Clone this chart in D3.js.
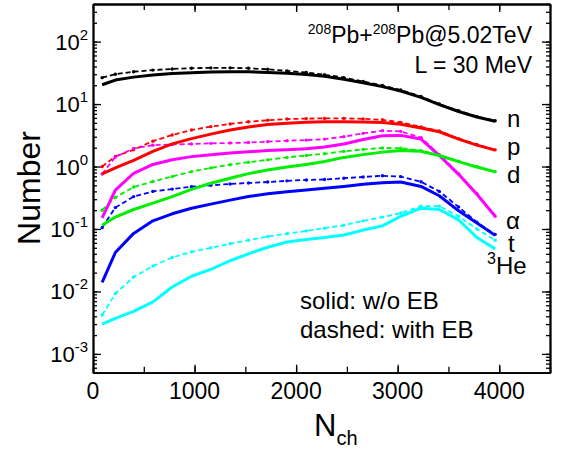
<!DOCTYPE html>
<html>
<head>
<meta charset="utf-8">
<script src="https://cdn.jsdelivr.net/npm/d3@7"></script>
<style>
  body { margin: 0; background: #fff; }
  svg { font-family: "Liberation Sans", Arial, sans-serif; }
</style>
</head>
<body>
<svg id="chart"></svg>
<script>
var width = 562,
    height = 452,
    plotLeft = 93,
    plotRight = 550,
    plotTop = 4,
    plotBottom = 372.7;

// multiplicity points (x)
var nch = [90, 220, 400, 590, 780, 970, 1160, 1350, 1530, 1720, 1910, 2100,
           2280, 2470, 2660, 2850, 3030, 3230, 3410, 3600, 3780, 3960];

// solid: without EB
var nSolid = [20.4, 24.2, 27, 29.3, 30.8, 31.8, 32.6, 33, 32.8, 32, 31, 29.8,
              27.8, 25, 22, 19, 16.2, 12.8, 9.8, 7.6, 6.2, 5.3];
var pSolid = [0.76, 0.95, 1.25, 1.75, 2.3, 2.8, 3.3, 3.85, 4.3, 4.7, 4.95, 5.1,
              5.2, 5.2, 5.15, 5.05, 4.75, 4.15, 3.6, 2.75, 2.2, 1.83];
var aSolid = [0.15, 0.42, 0.78, 1.08, 1.28, 1.44, 1.55, 1.65, 1.72, 1.8, 1.86, 1.93,
              2.05, 2.3, 2.7, 3.1, 3.15, 2.75, 1.5, 0.75, 0.36, 0.16];
var dSolid = [0.115, 0.155, 0.205, 0.26, 0.33, 0.43, 0.54, 0.65, 0.77, 0.88, 0.98, 1.08,
              1.2, 1.4, 1.55, 1.7, 1.8, 1.75, 1.5, 1.2, 0.98, 0.82];
var tSolid = [0.014, 0.042, 0.085, 0.135, 0.175, 0.215, 0.25, 0.29, 0.33, 0.365, 0.395, 0.42,
              0.45, 0.48, 0.52, 0.55, 0.565, 0.48, 0.34, 0.195, 0.125, 0.079];
var heSolid = [0.003, 0.0037, 0.0048, 0.0068, 0.0118, 0.0175, 0.0225, 0.031, 0.04, 0.051, 0.062, 0.068,
               0.073, 0.08, 0.096, 0.112, 0.16, 0.215, 0.205, 0.14, 0.073, 0.048];

// dashed: with EB
var nDashed = [26.5, 30, 33, 35, 36.5, 37.5, 38, 38, 37.5, 36, 34, 32,
               29.5, 26.5, 23, 19.8, 16.8, 13.2, 10, 7.8, 6.3, 5.4];
var pDashed = [1.0, 1.45, 1.85, 2.55, 3.2, 3.85, 4.35, 4.8, 5.2, 5.5, 5.75, 5.85,
               5.9, 5.9, 5.8, 5.6, 5.1, 4.3, 3.7, 2.8, 2.25, 1.85];
var aDashed = [0.76, 1.42, 1.95, 2.2, 2.25, 2.3, 2.35, 2.38, 2.42, 2.5, 2.58, 2.65,
               2.75, 3.0, 3.4, 3.75, 3.65, 2.9, 1.55, 0.77, 0.37, 0.16];
var dDashed = [0.2, 0.32, 0.47, 0.575, 0.69, 0.83, 0.95, 1.07, 1.17, 1.28, 1.4, 1.5,
               1.6, 1.75, 1.88, 1.98, 1.97, 1.8, 1.52, 1.22, 1.0, 0.83];
var tDashed = [0.105, 0.22, 0.33, 0.4, 0.435, 0.475, 0.5, 0.525, 0.545, 0.565, 0.59, 0.61,
               0.62, 0.65, 0.68, 0.71, 0.69, 0.57, 0.4, 0.225, 0.128, 0.082];
var heDashed = [0.0042, 0.0092, 0.017, 0.0255, 0.035, 0.043, 0.05, 0.058, 0.066, 0.076, 0.084, 0.093,
                0.103, 0.115, 0.135, 0.155, 0.18, 0.232, 0.232, 0.16, 0.1, 0.066];

var colors = ['#000000', '#ff0000', '#ff00ff', '#00ee00', '#0000ff', '#00ffff'];
var solidSets = [nSolid, pSolid, aSolid, dSolid, tSolid, heSolid];
var dashedSets = [nDashed, pDashed, aDashed, dDashed, tDashed, heDashed];

var xTicks = [0, 1000, 2000, 3000, 4000];
var yDecades = [1e-3, 1e-2, 1e-1, 1, 10, 100];

var svg = d3.select('svg#chart')
    .attr('width', width)
    .attr('height', height);

var x = d3.scaleLinear().domain([0, 4500]).range([plotLeft, plotRight]);
var y = d3.scaleLog().domain([5e-4, 400]).range([plotBottom, plotTop]);

var xMinor = d3.range(0, 4501, 500);
var yMinor = [];
for (var e = -4; e <= 2; e++) {
    for (var m = 1; m <= 9; m++) {
        var v = m * Math.pow(10, e);
        if (v >= 5e-4 && v <= 400) yMinor.push(v);
    }
}

function drawAxis(axis, tx, ty) {
    var g = svg.append('g')
        .attr('transform', 'translate(' + tx + ',' + ty + ')')
        .call(axis);
    g.selectAll('text').remove();
    g.selectAll('line').attr('stroke', '#000').attr('stroke-width', 1.3);
    g.select('.domain').attr('stroke', '#000').attr('stroke-width', 1.8);
    return g;
}

// minor ticks
drawAxis(d3.axisBottom(x).tickValues(xMinor).tickSize(-6).tickSizeOuter(0), 0, plotBottom);
drawAxis(d3.axisTop(x).tickValues(xMinor).tickSize(-6).tickSizeOuter(0), 0, plotTop);
drawAxis(d3.axisLeft(y).tickValues(yMinor).tickSize(-4).tickSizeOuter(0), plotLeft, 0);
drawAxis(d3.axisRight(y).tickValues(yMinor).tickSize(-4).tickSizeOuter(0), plotRight, 0);
// major ticks
drawAxis(d3.axisBottom(x).tickValues(xTicks).tickSize(-8).tickSizeOuter(0), 0, plotBottom);
drawAxis(d3.axisTop(x).tickValues(xTicks).tickSize(-8).tickSizeOuter(0), 0, plotTop);
drawAxis(d3.axisLeft(y).tickValues(yDecades).tickSize(-8).tickSizeOuter(0), plotLeft, 0);
drawAxis(d3.axisRight(y).tickValues(yDecades).tickSize(-8).tickSizeOuter(0), plotRight, 0);

// tick labels
svg.append('g').selectAll('text')
    .data(xTicks)
    .enter().append('text')
    .attr('x', function(d) { return x(d); })
    .attr('y', 399)
    .attr('text-anchor', 'middle')
    .attr('font-size', 23)
    .text(function(d) { return d; });

svg.append('g').selectAll('text')
    .data(yDecades)
    .enter().append('text')
    .attr('x', 88)
    .attr('y', function(d) { return y(d) + 8; })
    .attr('text-anchor', 'end')
    .attr('font-size', 22)
    .each(function(d) {
        var t = d3.select(this);
        t.append('tspan').text('10');
        t.append('tspan').attr('dy', -10).attr('font-size', 15)
            .text(Math.round(Math.log10(d)));
    });

// curves
var line = d3.line()
    .x(function(d, i) { return x(nch[i]); })
    .y(function(d) { return y(d); });

dashedSets.forEach(function(set, k) {
    svg.append('path')
        .attr('d', line(set))
        .attr('fill', 'none')
        .attr('stroke', colors[k])
        .attr('stroke-width', 1.8)
        .attr('stroke-dasharray', '5,3');
    svg.append('g').selectAll('circle')
        .data(set)
        .enter().append('circle')
        .attr('cx', function(d, i) { return x(nch[i]); })
        .attr('cy', function(d) { return y(d); })
        .attr('r', 1.7)
        .attr('fill', colors[k]);
});

solidSets.forEach(function(set, k) {
    svg.append('path')
        .attr('d', line(set))
        .attr('fill', 'none')
        .attr('stroke', colors[k])
        .attr('stroke-width', 3)
        .attr('stroke-linejoin', 'round');
});

// species labels
var labels = [['n', 507, 127], ['p', 507, 155], ['d', 507, 183],
              ['\u03b1', 506, 229], ['t', 508, 252]];
labels.forEach(function(l) {
    svg.append('text').attr('x', l[1]).attr('y', l[2])
        .attr('font-size', 24).text(l[0]);
});
var he = svg.append('text').attr('x', 487).attr('y', 274).attr('font-size', 24);
he.append('tspan').attr('font-size', 16).attr('dy', -10).text('3');
he.append('tspan').attr('dy', 10).text('He');

// system text
var sys = svg.append('text').attr('x', 532).attr('y', 43)
    .attr('text-anchor', 'end').attr('font-size', 23);
sys.append('tspan').attr('font-size', 14).attr('dy', -9).text('208');
sys.append('tspan').attr('dy', 9).text('Pb+');
sys.append('tspan').attr('font-size', 14).attr('dy', -9).text('208');
sys.append('tspan').attr('dy', 9).text('Pb@5.02TeV');

svg.append('text').attr('x', 532).attr('y', 73)
    .attr('text-anchor', 'end').attr('font-size', 23).text('L = 30 MeV');

svg.append('text').attr('x', 300).attr('y', 309).attr('font-size', 24).text('solid: w/o EB');
svg.append('text').attr('x', 300).attr('y', 338).attr('font-size', 24).text('dashed: with EB');

// axis titles
svg.append('text')
    .attr('transform', 'translate(40,188) rotate(-90)')
    .attr('text-anchor', 'middle')
    .attr('font-size', 32)
    .text('Number');

var xt = svg.append('text').attr('x', 314).attr('y', 436).attr('font-size', 31);
xt.append('tspan').text('N');
xt.append('tspan').attr('font-size', 20).attr('dy', 9).text('ch');
</script>
</body>
</html>
